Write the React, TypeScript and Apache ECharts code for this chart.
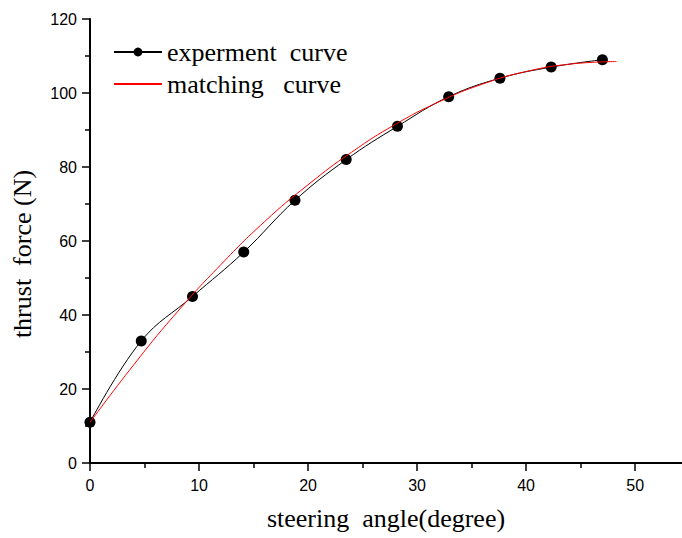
import React, { useEffect, useRef } from "react";
import * as echarts from "echarts";

const expX = [0, 4.7, 9.4, 14.1, 18.8, 23.5, 28.2, 32.9, 37.6, 42.3, 47.0];
const expY = [11, 33, 45, 57, 71, 82, 91, 99, 104, 107, 109];
const fitX = [0, 4, 8, 12, 16, 20, 24, 28, 32, 36, 40, 44, 48.3];
const fitY = [11, 26.5, 40.8, 53.6, 65.2, 75.2, 84, 91.5, 97.6, 102.4, 105.8, 107.8, 108.5];
const xMajor = [0, 10, 20, 30, 40, 50];
const xMinor = [5, 15, 25, 35, 45];
const seriesNames = ["experment  curve", "matching   curve"];
const xName = "steering  angle(degree)";
const yName = "thrust  force (N)";

const serif = '"Liberation Serif", "Times New Roman", serif';
const sans = '"Liberation Sans", Arial, sans-serif';

export default function App() {
  const ref = useRef<HTMLDivElement>(null);
  useEffect(() => {
    if (!ref.current) return;
    const chart = echarts.init(ref.current, undefined, { renderer: "svg" });
    const xMax = 54.3;
    chart.setOption({
      animation: false,
      backgroundColor: "#ffffff",
      grid: { left: 90, right: 0, top: 19, bottom: 75 },
      legend: {
        orient: "vertical",
        left: 108,
        top: 34,
        itemWidth: 48,
        itemHeight: 11,
        itemGap: 6,
        textStyle: { fontFamily: serif, fontSize: 26, color: "#000" },
        data: [
          seriesNames[0],
          { name: seriesNames[1], itemStyle: { opacity: 0 } },
        ],
      },
      xAxis: [
        {
          type: "value",
          min: 0,
          max: xMax,
          interval: 10,
          splitLine: { show: false },
          axisLine: { show: true, lineStyle: { color: "#000", width: 2 } },
          axisTick: {
            show: true,
            customValues: xMajor,
            length: 8,
            lineStyle: { color: "#000", width: 1.5 },
          },
          axisLabel: {
            customValues: xMajor,
            margin: 14,
            color: "#000",
            fontFamily: sans,
            fontSize: 16,
          },
          name: xName,
          nameLocation: "middle",
          nameGap: 42,
          nameTextStyle: { fontFamily: serif, fontSize: 26, color: "#000" },
        },
        {
          type: "value",
          min: 0,
          max: xMax,
          position: "bottom",
          splitLine: { show: false },
          axisLine: { show: false },
          axisTick: {
            show: true,
            customValues: xMinor,
            length: 5,
            lineStyle: { color: "#000", width: 1.5 },
          },
          axisLabel: { show: false },
        },
      ],
      yAxis: {
        type: "value",
        min: 0,
        max: 120,
        interval: 20,
        splitLine: { show: false },
        axisLine: { show: true, lineStyle: { color: "#000", width: 2 } },
        axisTick: { show: true, length: 8, lineStyle: { color: "#000", width: 1.5 } },
        minorTick: { show: true, splitNumber: 2, length: 5, lineStyle: { color: "#000", width: 1.5 } },
        axisLabel: { margin: 13, color: "#000", fontFamily: sans, fontSize: 16 },
        name: yName,
        nameLocation: "middle",
        nameGap: 55,
        nameRotate: 90,
        nameTextStyle: { fontFamily: serif, fontSize: 26, color: "#000", padding: [0, 26, 0, 0] },
      },
      series: [
        {
          name: seriesNames[0],
          type: "line",
          xAxisIndex: 0,
          data: expX.map((x, i) => [x, expY[i]]),
          smooth: 0.4,
          symbol: "circle",
          symbolSize: 11,
          itemStyle: { color: "#000" },
          lineStyle: { color: "#000", width: 1 },
          z: 2,
        },
        {
          name: seriesNames[1],
          type: "line",
          xAxisIndex: 0,
          data: fitX.map((x, i) => [x, fitY[i]]),
          smooth: true,
          symbol: "none",
          itemStyle: { color: "#ff0000" },
          lineStyle: { color: "#ff0000", width: 1 },
          z: 3,
        },
      ],
    });
    return () => chart.dispose();
  }, []);
  return <div ref={ref} style={{ width: 682, height: 538, position: "absolute", left: 0, top: 0 }} />;
}
